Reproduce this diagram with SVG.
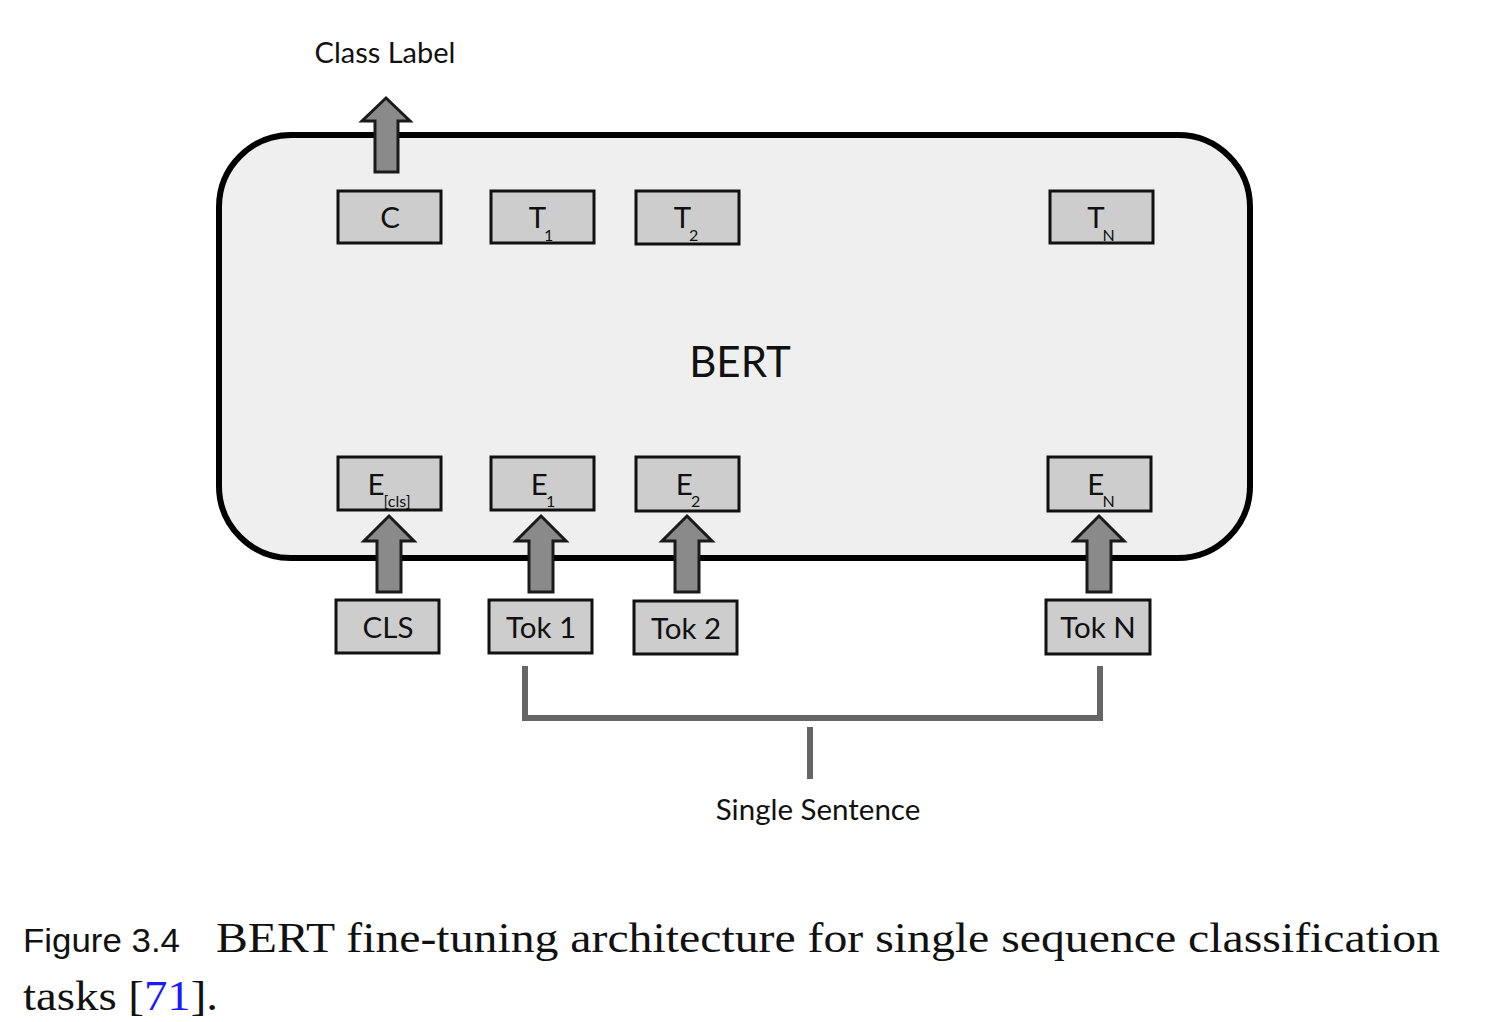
<svg xmlns="http://www.w3.org/2000/svg" width="1492" height="1022" viewBox="0 0 1492 1022">
<style>
.box{fill:#cdcdcd;stroke:#111;stroke-width:3}
.arr{fill:#8a8a8a;stroke:#1a1a1a;stroke-width:3;stroke-linejoin:miter}
.lbl{font-family:Lato,"Open Sans",sans-serif;fill:#111}
.bt{font-family:Lato,"Open Sans",sans-serif;font-size:29.5px;fill:#111;text-anchor:middle}
.sub{font-size:16px}
.brk{fill:none;stroke:#666;stroke-width:6}
.cap{font-family:"Liberation Serif",serif;font-size:42px;fill:#111}
</style>
<rect width="1492" height="1022" fill="#fff"/>
<g id="bert">
<rect x="219" y="135" width="1031" height="423" rx="72" ry="72" fill="#efefef" stroke="#000" stroke-width="6"/>
<text x="740" y="377" class="lbl" font-size="42" text-anchor="middle">BERT</text>
</g>
<g id="class-label"><text x="385" y="63" class="lbl" font-size="29" text-anchor="middle">Class Label</text></g>
<g id="single-sentence"><text x="818" y="820" class="lbl" font-size="29.5" text-anchor="middle">Single Sentence</text></g>
<g id="C"><rect class="box" x="338" y="191" width="103" height="52"/><text class="bt" x="390" y="228">C</text></g>
<g id="T1"><rect class="box" x="491" y="191" width="103" height="52"/><text class="bt" x="541" y="228">T<tspan class="sub" dx="-2" dy="13">1</tspan></text></g>
<g id="T2"><rect class="box" x="636" y="191" width="103" height="53"/><text class="bt" x="686" y="228">T<tspan class="sub" dx="-2" dy="13">2</tspan></text></g>
<g id="TN"><rect class="box" x="1050" y="191" width="103" height="52"/><text class="bt" x="1101" y="228">T<tspan class="sub" dx="-2" dy="13">N</tspan></text></g>
<g id="Ecls"><rect class="box" x="338" y="457" width="103" height="53"/><text class="bt" x="389" y="495">E<tspan class="sub" dx="-1" dy="12">[cls]</tspan></text></g>
<g id="E1"><rect class="box" x="491" y="457" width="103" height="53"/><text class="bt" x="543" y="495">E<tspan class="sub" dx="-2" dy="12">1</tspan></text></g>
<g id="E2"><rect class="box" x="636" y="457" width="103" height="54"/><text class="bt" x="688" y="495">E<tspan class="sub" dx="-2" dy="12">2</tspan></text></g>
<g id="EN"><rect class="box" x="1048" y="457" width="103" height="54"/><text class="bt" x="1101" y="495">E<tspan class="sub" dx="-2" dy="12">N</tspan></text></g>
<g id="CLS"><rect class="box" x="336" y="600" width="103" height="53"/><text class="bt" x="388" y="638">CLS</text></g>
<g id="Tok1"><rect class="box" x="489" y="600" width="103" height="53"/><text class="bt" x="541" y="638">Tok 1</text></g>
<g id="Tok2"><rect class="box" x="634" y="601" width="103" height="53"/><text class="bt" x="686" y="639">Tok 2</text></g>
<g id="TokN"><rect class="box" x="1046" y="600" width="104" height="54"/><text class="bt" x="1098" y="638">Tok N</text></g>
<g id="connectors">
<polygon class="arr" points="386,98 410,121 398,121 398,172 375,172 375,121 362,121"/>
<polygon class="arr" points="389,516 414,541 401,541 401,592 377,592 377,541 364,541"/>
<polygon class="arr" points="541,516 566,541 553,541 553,592 529,592 529,541 516,541"/>
<polygon class="arr" points="687,516 712,541 699,541 699,592 675,592 675,541 662,541"/>
<polygon class="arr" points="1099,516 1124,541 1111,541 1111,592 1087,592 1087,541 1074,541"/>
<path class="brk" d="M525,666 V718 M1100,666 V718 M522,718 H1103 M810,727 V779"/>
</g>
<g id="caption">
<text x="23" y="952" font-family="'Liberation Sans',Arial,sans-serif" font-size="34" fill="#111" textLength="157" lengthAdjust="spacingAndGlyphs">Figure 3.4</text>
<text x="216" y="952" class="cap" textLength="1224" lengthAdjust="spacingAndGlyphs">BERT fine-tuning architecture for single sequence classification</text>
<text x="23" y="1010" class="cap" textLength="195" lengthAdjust="spacingAndGlyphs">tasks [<tspan fill="#1a1aff">71</tspan>].</text>
</g>
</svg>
